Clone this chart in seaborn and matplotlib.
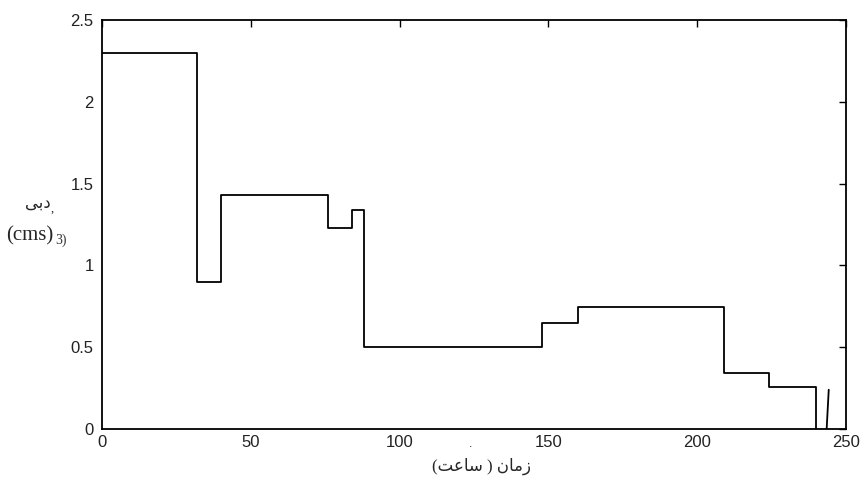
import numpy as np
import pandas as pd
import matplotlib
matplotlib.use('Agg')
import matplotlib.pyplot as plt
import seaborn as sns

# ==============================================================================
# 1. 数据 (step hydrograph)
# ==============================================================================
time_edges = [0, 32, 40, 76, 84, 88, 148, 160, 209, 224, 240]
flow_values = [2.30, 0.90, 1.43, 1.23, 1.34, 0.50, 0.645, 0.745, 0.343, 0.254, 0.0]

# stray slanted stroke near the end
stroke_x = [243.5, 244.2]
stroke_y = [0.0, 0.24]

x_ticks = [0, 50, 100, 150, 200, 250]
y_ticks = [0, 0.5, 1, 1.5, 2, 2.5]
x_tick_labels = ['0', '50', '100', '150', '200', '250']
y_tick_labels = ['0', '0.5', '1', '1.5', '2', '2.5']

# presentation forms in visual (left-to-right) order
word_hour = '\uFE96\uFECB\uFE8E\uFEB3'
word_time = '\uFEE5\uFE8E\uFEE3\uFEAF'
xlabel_text = '(' + word_hour + ' ) ' + word_time
ylabel_fa = '\uFEF0\uFE91\uFEA9'
ylabel_unit = '(cms'

df = pd.DataFrame({'t': time_edges, 'q': flow_values})
df_stroke = pd.DataFrame({'t': stroke_x, 'q': stroke_y})

# ==============================================================================
# 2. 绘图
# ==============================================================================
sns.set_style('white')
plt.rcParams['font.family'] = ['Liberation Sans', 'DejaVu Sans']

W, H = 865, 479
fig = plt.figure(figsize=(W / 100, H / 100), dpi=100)
ax = fig.add_axes([102 / W, 1 - 429 / H, 744 / W, 409 / H])

sns.lineplot(data=df, x='t', y='q', ax=ax, color='black', linewidth=1.3,
             drawstyle='steps-post', estimator=None, sort=False)
sns.lineplot(data=df_stroke, x='t', y='q', ax=ax, color='black', linewidth=1.3,
             estimator=None, sort=False)

ax.set_xlim(0, 250)
ax.set_ylim(0, 2.5)
ax.set_xticks(x_ticks)
ax.set_xticklabels(x_tick_labels)
ax.set_yticks(y_ticks)
ax.set_yticklabels(y_tick_labels)
ax.set_xlabel('')
ax.set_ylabel('')

ax.tick_params(axis='both', direction='in', length=5, width=1, color='black',
               top=True, right=True, labelsize=12, labelcolor='#222222')
ax.tick_params(axis='y', pad=6)
ax.tick_params(axis='x', pad=4)

for sp in ax.spines.values():
    sp.set_visible(True)
    sp.set_color('black')
    sp.set_linewidth(1.3)

# ==============================================================================
# 3. 标签
# ==============================================================================
fa_font = ['Liberation Serif', 'DejaVu Sans']
fig.text(481 / W, 1 - 466 / H, xlabel_text, ha='center', va='center',
         fontsize=12, family=fa_font)
fig.text(471 / W, 1 - 444 / H, '.', ha='center', va='center', fontsize=9)

fig.text(38 / W, 1 - 204 / H, ylabel_fa, ha='center', va='center',
         fontsize=12, family=fa_font)
fig.text(52 / W, 1 - 209 / H, ',', ha='center', va='center', fontsize=9,
         family=fa_font)
# unit label: "(cms" with an overlapped ")" / "3)" as in the source scan
fig.text(53 / W, 1 - 236 / H, ylabel_unit + ')', ha='right', va='center',
         fontsize=15, family=fa_font)
fig.text(55 / W, 1 - 240 / H, '3)', ha='left', va='center',
         fontsize=10, family=fa_font, color='#333333')

fig.savefig('out.png', dpi=100)
plt.close(fig)
